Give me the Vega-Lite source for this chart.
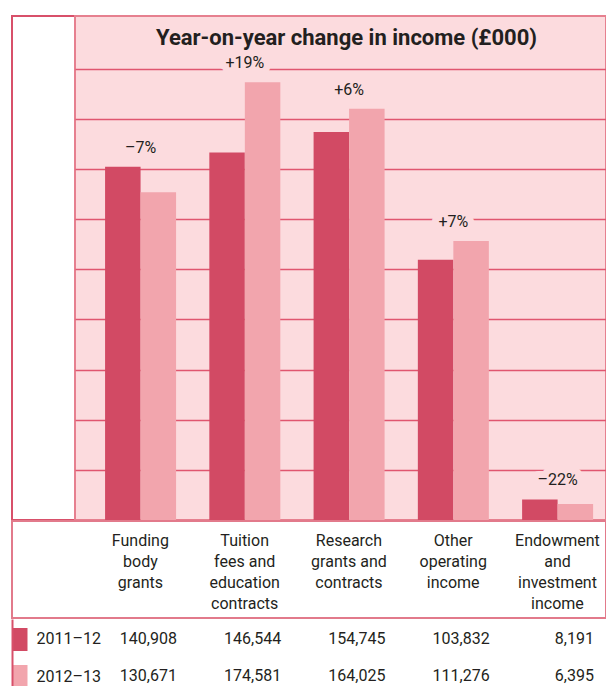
{
  "$schema": "https://vega.github.io/schema/vega-lite/v6.json",
  "padding": {"left": 0, "top": 15, "right": 0, "bottom": 0},
  "background": "white",
  "config": {
    "font": "Roboto",
    "text": {"font": "Roboto"},
    "axis": {"labelFont": "Roboto"}
  },
  "datasets": {
    "income": [
      {"category": "Funding body grants", "year": "2011–12", "value": 140908, "change": "–7%"},
      {"category": "Funding body grants", "year": "2012–13", "value": 130671, "change": "–7%"},
      {"category": "Tuition fees and education contracts", "year": "2011–12", "value": 146544, "change": "+19%"},
      {"category": "Tuition fees and education contracts", "year": "2012–13", "value": 174581, "change": "+19%"},
      {"category": "Research grants and contracts", "year": "2011–12", "value": 154745, "change": "+6%"},
      {"category": "Research grants and contracts", "year": "2012–13", "value": 164025, "change": "+6%"},
      {"category": "Other operating income", "year": "2011–12", "value": 103832, "change": "+7%"},
      {"category": "Other operating income", "year": "2012–13", "value": 111276, "change": "+7%"},
      {"category": "Endowment and investment income", "year": "2011–12", "value": 8191, "change": "–22%"},
      {"category": "Endowment and investment income", "year": "2012–13", "value": 6395, "change": "–22%"}
    ]
  },
  "spacing": -2,
  "vconcat": [
    {
      "spacing": 0,
      "bounds": "flush",
      "hconcat": [
        {
          "width": 63,
          "height": 504,
          "view": {"fill": "white", "stroke": "#d8506a", "strokeWidth": 2},
          "data": {"values": []},
          "mark": "text",
          "encoding": {}
        },
        {
          "width": 531,
          "height": 504,
          "view": {"fill": "#fcdbde", "stroke": "#e6808f", "strokeWidth": 2},
          "title": {
            "text": "Year-on-year change in income (£000)",
            "anchor": "middle",
            "frame": "group",
            "offset": -51,
            "baseline": "alphabetic",
            "fontSize": 22,
            "font": "Roboto",
            "fontWeight": "bold",
            "color": "#231f20",
            "dx": 6
          },
          "data": {"name": "income"},
          "encoding": {
            "x": {
              "field": "category",
              "type": "nominal",
              "sort": null,
              "scale": {"type": "band", "paddingInner": 0.319, "paddingOuter": 0.206, "align": 0.7},
              "axis": null
            }
          },
          "layer": [
            {
              "mark": {"type": "bar"},
              "encoding": {
                "xOffset": {"field": "year", "type": "nominal", "scale": {"paddingInner": 0, "paddingOuter": 0}},
                "y": {
                  "field": "value",
                  "type": "quantitative",
                  "scale": {"domain": [0, 201000], "nice": false, "zero": true},
                  "axis": {
                    "title": null,
                    "labels": false,
                    "ticks": false,
                    "domain": false,
                    "grid": true,
                    "values": [20000, 40000, 60000, 80000, 100000, 120000, 140000, 160000, 180000],
                    "gridColor": "#e0566f",
                    "gridWidth": 1.5
                  }
                },
                "color": {
                  "field": "year",
                  "type": "nominal",
                  "scale": {"domain": ["2011–12", "2012–13"], "range": ["#d24a64", "#f2a5ad"]},
                  "legend": null
                }
              }
            },
            {
              "transform": [
                {"aggregate": [{"op": "max", "field": "value", "as": "top"}], "groupby": ["category", "change"]}
              ],
              "mark": {
                "type": "text",
                "baseline": "middle",
                "dy": -19,
                "fontSize": 16,
                "stroke": "#fcdbde",
                "strokeWidth": 14,
                "strokeJoin": "round",
                "fill": "#fcdbde"
              },
              "encoding": {
                "y": {"field": "top", "type": "quantitative", "axis": {"title": null}},
                "text": {"field": "change"}
              }
            },
            {
              "transform": [
                {"aggregate": [{"op": "max", "field": "value", "as": "top"}], "groupby": ["category", "change"]}
              ],
              "mark": {
                "type": "text",
                "baseline": "middle",
                "dy": -19,
                "fontSize": 16,
                "color": "#231f20"
              },
              "encoding": {
                "y": {"field": "top", "type": "quantitative", "axis": {"title": null}},
                "text": {"field": "change"}
              }
            }
          ]
        }
      ]
    },
    {
      "width": 594,
      "height": 97,
      "view": {"fill": null, "stroke": "#e27a8b", "strokeWidth": 2},
      "data": {"name": "income"},
      "mark": {"type": "point", "opacity": 0},
      "encoding": {
        "x": {
          "field": "category",
          "type": "nominal",
          "sort": null,
          "scale": {"type": "band", "paddingInner": 0.319, "paddingOuter": 0.508, "align": 0.877},
          "axis": {
            "title": null,
            "orient": "top",
            "domain": false,
            "ticks": false,
            "labelAngle": 0,
            "labelPadding": -11,
            "labelBaseline": "top",
            "labelFontSize": 16,
            "labelLineHeight": 21,
            "labelColor": "#231f20",
            "labelOverlap": false,
            "labelBound": false,
            "labelExpr": "datum.value == 'Funding body grants' ? ['Funding', 'body', 'grants'] : datum.value == 'Tuition fees and education contracts' ? ['Tuition', 'fees and', 'education', 'contracts'] : datum.value == 'Research grants and contracts' ? ['Research', 'grants and', 'contracts'] : datum.value == 'Other operating income' ? ['Other', 'operating', 'income'] : ['Endowment', 'and', 'investment', 'income']"
          }
        }
      }
    },
    {
      "width": 594,
      "height": 69,
      "view": {"fill": null, "stroke": null},
      "data": {"name": "income"},
      "mark": {
        "type": "text",
        "align": "right",
        "baseline": "middle",
        "fontSize": 16,
        "color": "#231f20",
        "dx": 1
      },
      "encoding": {
        "x": {
          "field": "category",
          "type": "nominal",
          "sort": null,
          "bandPosition": 1,
          "scale": {"type": "band", "paddingInner": 0.319, "paddingOuter": 0.508, "align": 0.877},
          "axis": null
        },
        "y": {
          "field": "year",
          "type": "nominal",
          "scale": {"type": "point", "padding": 0.432, "align": 0.625},
          "axis": {
            "title": null,
            "orient": "left",
            "domain": true,
            "domainColor": "#d8506a",
            "domainWidth": 2,
            "ticks": true,
            "tickSize": -15,
            "tickWidth": 23,
            "tickCap": "butt",
            "tickColor": {
              "condition": {"test": "datum.value === '2011–12'", "value": "#d24a64"},
              "value": "#f2a5ad"
            },
            "labelAlign": "left",
            "labelBaseline": "middle",
            "labelPadding": -9,
            "labelFontSize": 16,
            "labelColor": "#231f20",
            "grid": false
          }
        },
        "text": {"field": "value", "type": "quantitative", "format": ","}
      }
    }
  ]
}
